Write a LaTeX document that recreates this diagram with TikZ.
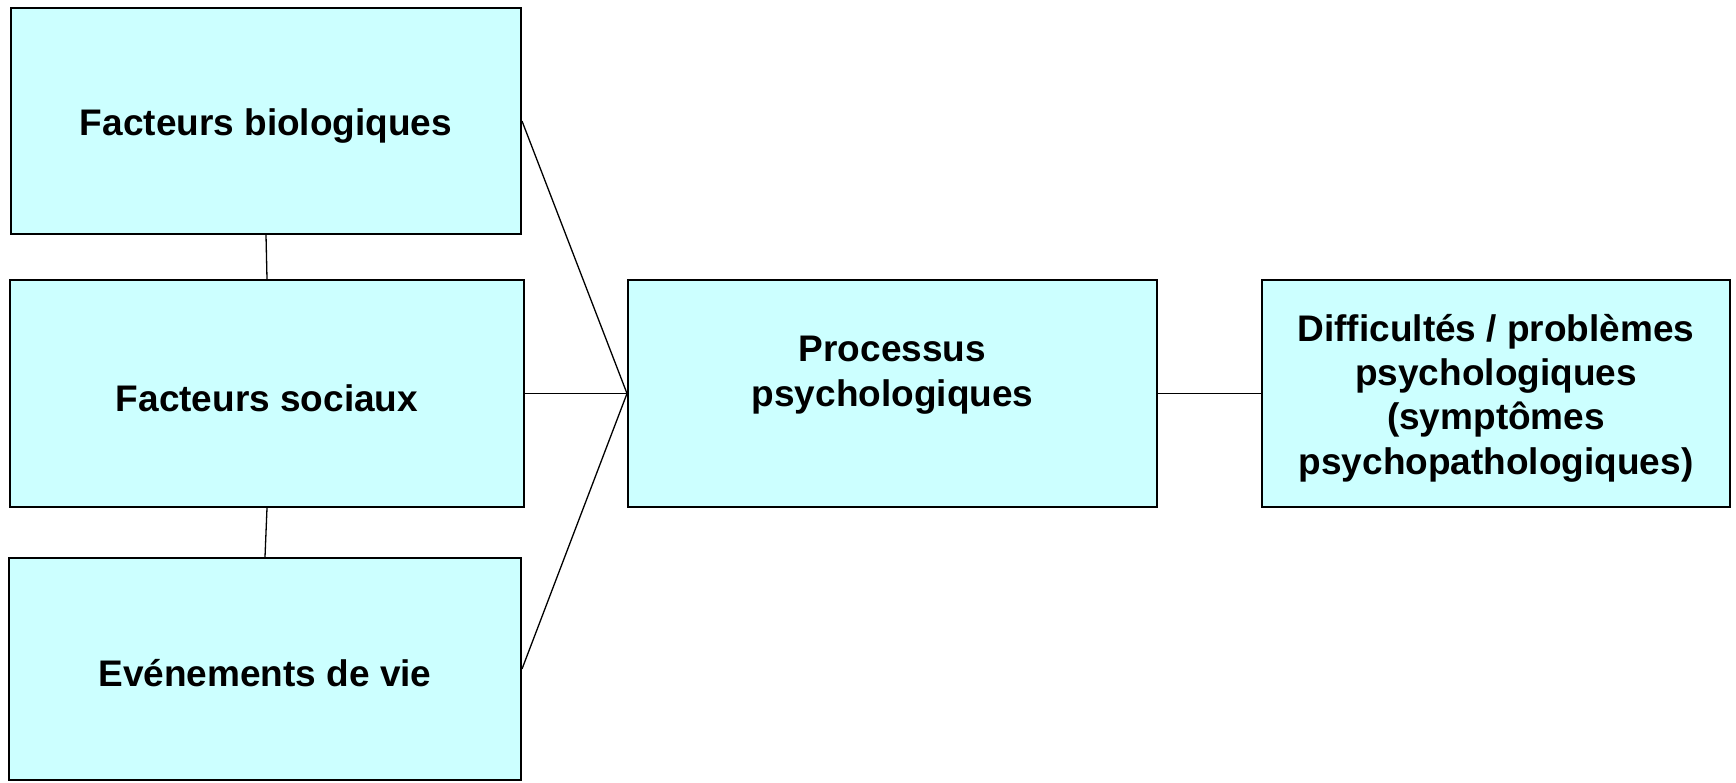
\documentclass[tikz,border=0pt]{standalone}
\usepackage{fontspec}
\setmainfont{Liberation Sans}
\definecolor{boxfill}{RGB}{204,255,255}
\newcommand{\topstrut}{\rule{0pt}{36pt}}
\begin{document}
\begin{tikzpicture}[x=1pt,y=-1pt,
  box/.style={draw=black, line width=2pt, fill=boxfill, rectangle, inner sep=0pt,
    align=center, font=\fontsize{37}{44.3}\selectfont\bfseries},
  link/.style={draw=black, line width=1.3pt}]
\useasboundingbox (0,0) rectangle (1736,782);
\node[box, minimum width=510pt, minimum height=226pt] (bio) at (266,121) {\topstrut Facteurs biologiques};
\node[box, minimum width=514pt, minimum height=227pt] (soc) at (267,393.5) {\topstrut Facteurs sociaux};
\node[box, minimum width=512pt, minimum height=222pt] (vie) at (265,669) {\topstrut Evénements de vie};
\node[box, minimum width=529pt, minimum height=227pt] (proc) at (892.5,393.5) {Processus\\psychologiques\\\mbox{}};
\node[box, minimum width=468pt, minimum height=227pt] (diff) at (1496,393.5) {\topstrut Difficultés / problèmes\\psychologiques\\(symptômes\\psychopathologiques)};
\draw[link] (bio.south) -- (soc.north);
\draw[link] (soc.south) -- (vie.north);
\draw[link] (bio.east) -- (proc.west);
\draw[link] (soc.east) -- (proc.west);
\draw[link] (vie.east) -- (proc.west);
\draw[link] (proc.east) -- (diff.west);
\end{tikzpicture}
\end{document}
